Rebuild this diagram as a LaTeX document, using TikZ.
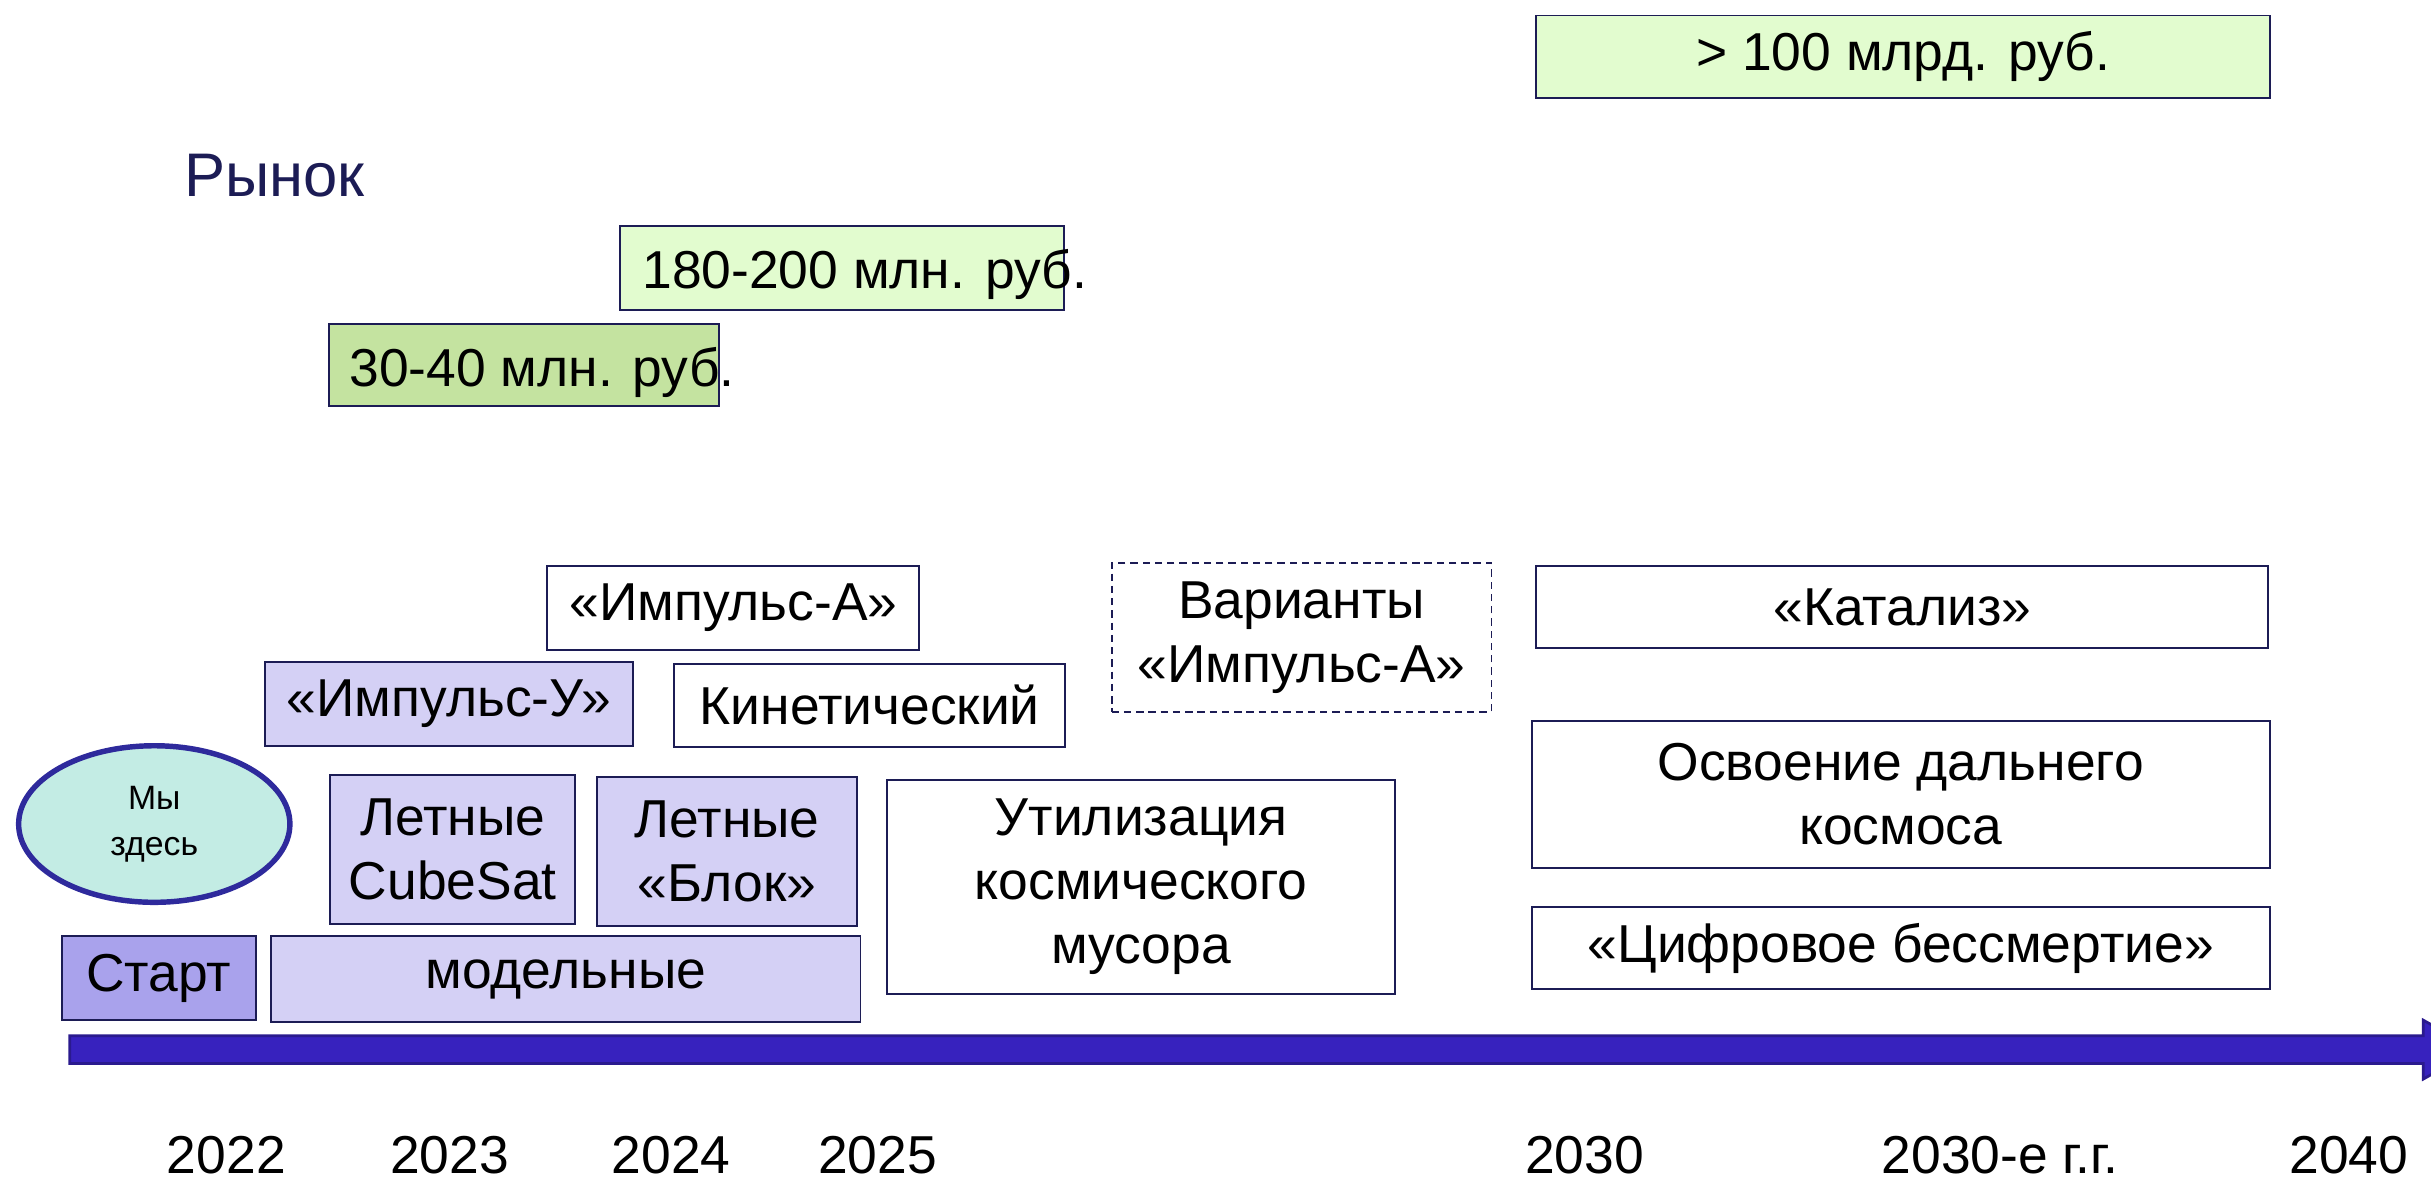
\documentclass[tikz,border=0pt]{standalone}
\usepackage{fontspec}
\setmainfont{Liberation Sans}
\usetikzlibrary{calc, shapes.geometric}

\definecolor{navy}{HTML}{1C1C55}
\definecolor{lilac}{HTML}{D4D0F5}
\definecolor{lilacdark}{HTML}{A9A2EC}
\definecolor{mintgreen}{HTML}{E2FCCF}
\definecolor{leafgreen}{HTML}{C4E3A0}
\definecolor{seafoam}{HTML}{C3ECE4}
\definecolor{barblue}{HTML}{3722BE}
\definecolor{bardark}{HTML}{2A1A8E}
\definecolor{ringblue}{HTML}{2E2A9C}

\newcommand{\bodysize}{\fontsize{19.6pt}{23.5pt}\selectfont}

% box from corner (x1,y1) to corner (x2,y2)
\newcommand{\stagebox}[7][]{%
  \pgfmathsetmacro{\stgw}{(#5-#3)*0.02}%
  \pgfmathsetmacro{\stgh}{(#6-#4)*0.02}%
  \node[#1, minimum width=\stgw cm, minimum height=\stgh cm] (#2) at ({(#3+#5)/2},{(#4+#6)/2}) {#7};%
}

\tikzset{
  tlbox/.style={draw=navy, line width=0.7pt, inner sep=0pt, align=center, font=\bodysize},
  whitebox/.style={tlbox, fill=white},
  lilacbox/.style={tlbox, fill=lilac},
  startbox/.style={tlbox, fill=lilacdark},
  mintbox/.style={tlbox, fill=mintgreen},
  leafbox/.style={tlbox, fill=leafgreen},
  optbox/.style={tlbox, dash pattern=on 2.7pt off 1.8pt},
  rawtext/.style={inner sep=0pt, font=\bodysize},
  year/.style={inner sep=0pt, font=\bodysize}
}

\begin{document}
\begin{tikzpicture}[x=0.02cm, y=-0.02cm]

    % Canvas
    \clip (0,0) rectangle (1568,760);
    \useasboundingbox (0,0) rectangle (1568,760);

    % Market
    \node[inner sep=0pt, text=navy, font=\fontsize{22.6pt}{27pt}\selectfont] (market) at (177,113) {Рынок};
    \stagebox[mintbox]{bln}{991}{10}{1464}{63}{> 100 млрд. руб.}
    \stagebox[mintbox]{mlnB}{400}{146}{686}{200}{}
    \node[rawtext, anchor=base west] (mlnBtext) at (414,186) {180-200 млн. руб.};
    \stagebox[leafbox]{mlnA}{212}{209}{464}{262}{}
    \node[rawtext, anchor=base west] (mlnAtext) at (225,249) {30-40 млн. руб.};

    % Projects
    \stagebox[whitebox]{impA}{353}{365}{593}{419}{«Импульс-А»}
    \stagebox[lilacbox]{impU}{171}{427}{408}{481}{«Импульс-У»}
    \stagebox[whitebox]{kinet}{435}{428}{687}{482}{Кинетический}
    \stagebox[optbox]{variants}{717}{363}{962}{459}{Варианты\\«Импульс-А»}
    \stagebox[whitebox]{catal}{991}{365}{1463}{418}{«Катализ»}
    \stagebox[whitebox]{deep}{988}{465}{1464}{560}{Освоение дальнего\\космоса}
    \stagebox[whitebox]{digital}{988}{585}{1464}{638}{«Цифровое бессмертие»}
    \stagebox[lilacbox]{cubesat}{213}{500}{371}{596}{Летные\\CubeSat}
    \stagebox[lilacbox]{block}{385}{501}{553}{597}{Летные\\«Блок»}
    \stagebox[startbox]{start}{40}{604}{165}{658}{Старт}
    \stagebox[lilacbox]{models}{175}{604}{555}{659}{модельные}
    \stagebox[whitebox]{debris}{572}{503}{900}{641}{Утилизация\\космического\\мусора}

    % We are here
    \node[ellipse, draw=ringblue, line width=2pt, fill=seafoam, minimum width=3.5cm, minimum height=2.02cm,
          inner sep=0pt, align=center, font=\fontsize{12.4pt}{17pt}\selectfont] (here) at (99.5,531.5) {Мы\\здесь};

    % Time axis
    \coordinate (axstart) at (45,677);
    \coordinate (axhead) at (1563,677);
    \coordinate (axtip) at (1597,677);
    \draw[draw=bardark, fill=barblue, line width=1pt]
        ($(axstart)+(0,-9)$) -- ($(axhead)+(0,-9)$) -- ($(axhead)+(0,-19)$) -- (axtip)
        -- ($(axhead)+(0,19)$) -- ($(axhead)+(0,9)$) -- ($(axstart)+(0,9)$) -- cycle;

    % Years
    \node[year] (y22) at (146,745) {2022};
    \node[year] (y23) at (290,745) {2023};
    \node[year] (y24) at (433,745) {2024};
    \node[year] (y25) at (566,745) {2025};
    \node[year] (y30) at (1022,745) {2030};
    \node[year] (y30s) at (1290,745) {2030-е г.г.};
    \node[year] (y40) at (1515,745) {2040};

\end{tikzpicture}
\end{document}
